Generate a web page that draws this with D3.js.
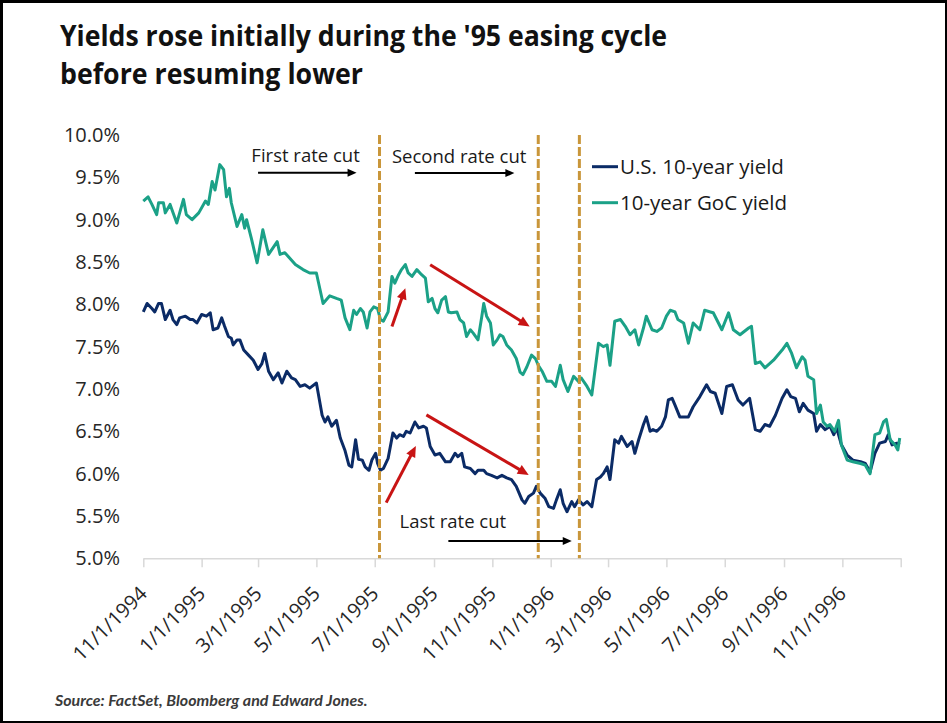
<!DOCTYPE html>
<html><head><meta charset="utf-8">
<script src="https://cdn.jsdelivr.net/npm/d3@7"></script>
<style>body{margin:0;background:#fff}svg{display:block}</style>
</head><body><svg id="c" width="947" height="723"></svg>
<script>
// ---------- DATA ----------
const title1 = "Yields rose initially during the '95 easing cycle";
const title2 = "before resuming lower";
const source = "Source: FactSet, Bloomberg and Edward Jones.";
const seriesNames = ["U.S. 10-year yield", "10-year GoC yield"];
const startDate = "11/1/1994";
const endDate = "1/1/1997";
const xTickLabels = ["11/1/1994","1/1/1995","3/1/1995","5/1/1995","7/1/1995","9/1/1995","11/1/1995",
  "1/1/1996","3/1/1996","5/1/1996","7/1/1996","9/1/1996","11/1/1996"];
const yTicks = [5.0,5.5,6.0,6.5,7.0,7.5,8.0,8.5,9.0,9.5,10.0];

// days since 11/1/1994
const usDays = [0,4,9,12,16,19,23,28,31,35,38,44,49,52,56,61,66,70,73,78,82,85,89,92,94,98,101,105,110,115,120,124,127,131,136,141,145,150,155,159,164,169,174,181,187,190,193,197,202,206,211,215,218,222,225,229,232,236,239,243,245,248,251,256,261,265,268,272,275,279,284,288,293,296,300,305,310,316,321,326,329,333,336,342,347,350,356,359,364,370,375,380,385,390,396,399,403,408,411,415,420,424,429,432,436,439,443,448,451,455,460,464,469,474,478,481,485,488,493,497,500,506,511,514,518,523,526,530,533,537,542,546,549,553,556,561,570,575,582,589,593,598,605,610,616,622,627,634,640,645,650,655,661,668,673,677,682,686,690,695,701,704,708,713,718,722,725,730,736,742,750,755,760,765,770,776,779,783,788,791];
const usYield = [7.91,8.01,7.95,7.91,8.01,8.01,7.82,7.93,7.82,7.76,7.84,7.86,7.82,7.82,7.78,7.88,7.86,7.90,7.70,7.72,7.84,7.74,7.62,7.60,7.52,7.58,7.58,7.46,7.40,7.34,7.23,7.30,7.42,7.21,7.11,7.19,7.07,7.21,7.13,7.11,7.03,7.05,7.01,7.07,6.69,6.61,6.67,6.56,6.63,6.42,6.27,6.10,6.08,6.40,6.17,6.16,6.08,6.04,6.16,6.24,6.12,6.04,6.06,6.18,6.48,6.42,6.46,6.44,6.50,6.48,6.61,6.54,6.56,6.54,6.32,6.22,6.24,6.14,6.14,6.24,6.20,6.24,6.08,6.06,6.00,6.04,6.04,6.00,5.98,5.95,5.98,5.95,5.93,5.85,5.69,5.65,5.73,5.77,5.85,5.77,5.71,5.61,5.59,5.69,5.81,5.65,5.55,5.67,5.61,5.69,5.63,5.67,5.61,5.93,5.96,6.00,6.08,5.93,6.40,6.36,6.44,6.32,6.38,6.24,6.40,6.58,6.67,6.50,6.52,6.50,6.56,6.67,6.87,6.89,6.81,6.67,6.67,6.79,6.91,7.05,6.97,6.95,6.71,7.03,7.05,6.87,6.81,6.89,6.52,6.50,6.58,6.56,6.69,6.89,6.99,6.91,6.89,6.73,6.83,6.75,6.71,6.50,6.58,6.52,6.56,6.46,6.54,6.34,6.22,6.16,6.14,6.12,6.02,6.24,6.36,6.38,6.46,6.34,6.36,6.34];

const gocDays = [0,5,9,14,16,21,23,28,35,42,45,51,58,65,68,72,75,80,84,87,90,92,98,103,106,108,113,119,125,131,140,143,148,159,167,174,181,188,195,202,207,211,216,220,223,227,230,234,237,241,245,248,251,256,260,263,267,270,274,277,281,286,291,295,298,302,305,308,312,316,319,322,328,331,335,338,342,345,350,354,356,359,363,366,370,373,376,380,385,390,394,397,401,406,410,413,417,422,427,431,436,439,444,450,455,458,464,469,476,481,485,488,493,499,504,509,514,518,523,526,532,537,542,547,551,556,559,565,570,575,582,587,593,596,605,612,617,624,633,636,640,645,650,659,668,673,678,683,689,692,695,701,704,708,711,715,718,723,727,730,736,742,750,755,760,765,770,774,777,781,786,789,791];
const gocYield = [9.22,9.27,9.18,9.06,9.20,9.20,9.08,9.18,8.96,9.24,9.06,9.00,9.08,9.22,9.18,9.45,9.35,9.65,9.59,9.27,9.37,9.20,8.92,9.06,8.90,9.00,8.78,8.49,8.88,8.59,8.74,8.59,8.61,8.47,8.41,8.37,8.37,8.01,8.10,8.07,8.05,7.84,7.70,7.93,7.88,7.95,7.91,7.72,7.91,7.97,7.95,7.82,7.80,7.91,8.33,8.25,8.35,8.41,8.47,8.37,8.33,8.41,8.35,8.31,8.03,8.07,7.95,7.90,8.05,8.09,7.91,7.90,7.91,7.82,7.78,7.62,7.70,7.66,7.58,7.86,8.01,7.86,7.78,7.52,7.58,7.64,7.62,7.52,7.46,7.36,7.20,7.17,7.26,7.40,7.36,7.28,7.21,7.09,7.09,7.03,7.28,7.11,6.97,7.15,7.09,7.13,7.03,6.93,7.54,7.50,7.52,7.28,7.80,7.82,7.74,7.64,7.70,7.52,7.72,7.86,7.70,7.68,7.72,7.86,7.93,7.91,7.82,7.78,7.54,7.78,7.70,7.93,7.91,7.90,7.70,7.90,7.70,7.64,7.72,7.74,7.30,7.32,7.25,7.34,7.46,7.54,7.42,7.25,7.38,7.34,7.15,7.11,6.71,6.81,6.61,6.56,6.58,6.50,6.63,6.34,6.16,6.14,6.12,6.10,6.00,6.46,6.48,6.61,6.64,6.40,6.34,6.28,6.42];

const rateCutDates = ["7/6/1995","12/19/1995","1/31/1996"];
const annoLabels = ["First rate cut","Second rate cut","Last rate cut"];
const annoDay = [113, 260, 268];
const annoVal = [9.684, 9.67, 5.358];
// black horizontal arrows [day0, day1, value]
const blackArrowDay0 = [120, 284, 319];
const blackArrowDay1 = [223, 388, 448];
const blackArrowVal = [9.555, 9.55, 5.204];
// red trend arrows
const redDay0 = [260, 300, 254, 296];
const redVal0 = [7.738, 8.467, 5.657, 6.694];
const redDay1 = [274, 404, 285, 403];
const redVal1 = [8.191, 7.738, 6.327, 5.985];

// ---------- CHART ----------
const parse = d3.timeParse("%m/%d/%Y");
const t0 = parse(startDate), t1 = parse(endDate);
const dayToDate = d => d3.timeDay.offset(t0, d);

const svg = d3.select("#c");
const W = 947, H = 723;
svg.append("rect").attr("width", W).attr("height", H).attr("fill", "#000");
svg.append("rect").attr("x", 3).attr("y", 3).attr("width", 942).attr("height", 718).attr("fill", "#fff");

const x = d3.scaleTime().domain([t0, t1]).range([143.3, 900.7]);
const y = d3.scaleLinear().domain([5, 10]).range([558.3, 135]);

// Title
const tfont = "'Open Sans', sans-serif";
svg.append("text").attr("x", 60).attr("y", 46).attr("font-family", tfont).attr("font-weight", 700)
  .attr("font-size", 28).attr("fill", "#111").attr("textLength", 607).attr("lengthAdjust", "spacingAndGlyphs").text(title1);
svg.append("text").attr("x", 60).attr("y", 84).attr("font-family", tfont).attr("font-weight", 700)
  .attr("font-size", 28).attr("fill", "#111").attr("textLength", 303).attr("lengthAdjust", "spacingAndGlyphs").text(title2);

// Y labels
svg.append("g").selectAll("text").data(yTicks).join("text")
  .attr("x", 120).attr("y", d => y(d)).attr("dy", "0.35em").attr("text-anchor", "end")
  .attr("font-family", tfont).attr("font-size", 20).attr("fill", "#262626")
  .text(d => d.toFixed(1) + "%");

// X axis
const tickDates = xTickLabels.map(parse).concat([t1]);
const xAxis = d3.axisBottom(x).tickValues(tickDates).tickSizeInner(9).tickSizeOuter(0).tickFormat("");
const gx = svg.append("g").attr("transform", "translate(0,558.3)").call(xAxis);
gx.select(".domain").attr("stroke", "#d9d9d9").attr("stroke-width", 1.5);
gx.selectAll(".tick line").attr("stroke", "#d9d9d9").attr("stroke-width", 1.5);

svg.append("g").selectAll("text").data(xTickLabels).join("text")
  .attr("transform", d => `translate(${x(parse(d)) + 5},595) rotate(-45)`)
  .attr("text-anchor", "end").attr("font-family", tfont).attr("font-size", 20).attr("fill", "#262626")
  .text(d => d);

// Series
const us = usDays.map((d, i) => ({date: dayToDate(d), v: usYield[i]}));
const goc = gocDays.map((d, i) => ({date: dayToDate(d), v: gocYield[i]}));
const line = d3.line().x(d => x(d.date)).y(d => y(d.v));
const usColor = "#0b2b66", gocColor = "#1ba187";
svg.append("path").datum(us).attr("d", line).attr("fill", "none").attr("stroke", usColor)
  .attr("stroke-width", 3).attr("stroke-linejoin", "round");
svg.append("path").datum(goc).attr("d", line).attr("fill", "none").attr("stroke", gocColor)
  .attr("stroke-width", 3).attr("stroke-linejoin", "round");

// Rate cut dashed lines
svg.append("g").selectAll("line").data(rateCutDates).join("line")
  .attr("x1", d => x(parse(d))).attr("x2", d => x(parse(d)))
  .attr("y1", y(10)).attr("y2", y(5))
  .attr("stroke", "#c9963a").attr("stroke-width", 3).attr("stroke-dasharray", "9,3");

// Arrows
function arrow(g, x0, y0, x1, y1, color, w, hl, hw) {
  const a = Math.atan2(y1 - y0, x1 - x0), c = Math.cos(a), s = Math.sin(a);
  const bx = x1 - c * hl, by = y1 - s * hl;
  g.append("line").attr("x1", x0).attr("y1", y0).attr("x2", bx + c * 1).attr("y2", by + s * 1)
    .attr("stroke", color).attr("stroke-width", w);
  g.append("path").attr("d", `M${x1},${y1}L${bx - s * hw / 2},${by + c * hw / 2}L${bx + s * hw / 2},${by - c * hw / 2}Z`)
    .attr("fill", color);
}
const ga = svg.append("g");
blackArrowDay0.forEach((d, i) => arrow(ga, x(dayToDate(d)), y(blackArrowVal[i]), x(dayToDate(blackArrowDay1[i])), y(blackArrowVal[i]), "#000", 2, 9, 8));
redDay0.forEach((d, i) => arrow(ga, x(dayToDate(d)), y(redVal0[i]), x(dayToDate(redDay1[i])), y(redVal1[i]), "#c81414", 3, 11, 10));

// Annotation texts
svg.append("g").selectAll("text").data(annoLabels).join("text")
  .attr("x", (d, i) => x(dayToDate(annoDay[i]))).attr("y", (d, i) => y(annoVal[i]))
  .attr("font-family", tfont).attr("font-size", 18.5).attr("fill", "#1a1a1a").text(d => d);

// Legend
const lg = svg.append("g");
[usColor, gocColor].forEach((c, i) => {
  const ly = 166.7 + i * 36;
  lg.append("line").attr("x1", 592).attr("x2", 618).attr("y1", ly).attr("y2", ly).attr("stroke", c).attr("stroke-width", 3);
  lg.append("text").attr("x", 620).attr("y", ly).attr("dy", "0.35em").attr("font-family", tfont)
    .attr("font-size", 20.5).attr("fill", "#1a1a1a").text(seriesNames[i]);
});

// Source
svg.append("text").attr("x", 55).attr("y", 706).attr("font-family", "Lato, sans-serif").attr("font-style", "italic")
  .attr("font-weight", 700).attr("font-size", 16).attr("fill", "#3a3a3a").text(source);
</script>
</body></html>
